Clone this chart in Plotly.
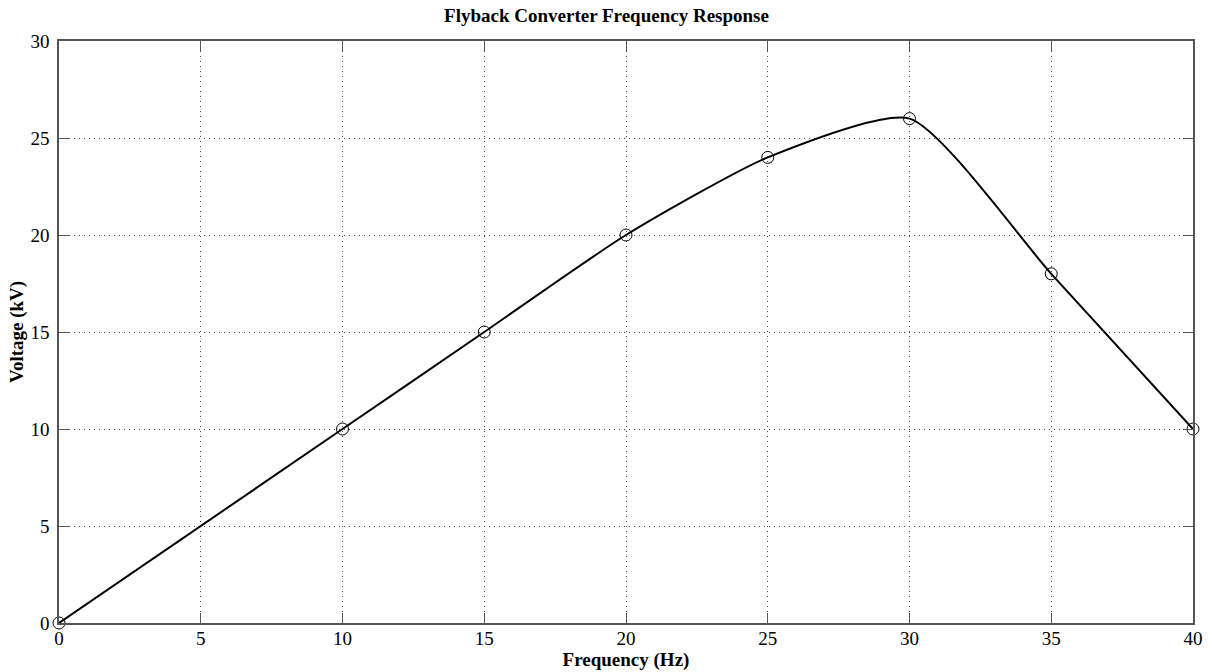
import plotly.graph_objects as go

freq = [0, 10, 15, 20, 25, 30, 35, 40]
voltage = [0, 10, 15, 20, 24, 26, 18, 10]
x_ticks = [0, 5, 10, 15, 20, 25, 30, 35, 40]
y_ticks = [0, 5, 10, 15, 20, 25, 30]

FONT = "Liberation Serif"

fig = go.Figure()
fig.add_trace(go.Scatter(
    x=freq, y=voltage, mode="lines+markers",
    line=dict(color="black", width=2, shape="spline", smoothing=0.6),
    marker=dict(symbol="circle-open", size=12, color="black", line=dict(width=1)),
    cliponaxis=False, showlegend=False,
))

axis_common = dict(
    showline=True, linecolor="#555555", linewidth=1.5, mirror="ticks",
    ticks="inside", ticklen=10, tickcolor="#555555", tickwidth=1,
    showgrid=True, gridcolor="#444444", griddash="1px,4px", gridwidth=1,
    zeroline=False, automargin=False,
    tickfont=dict(family=FONT, size=19, color="black"),
)

fig.update_layout(
    width=1213, height=672,
    margin=dict(l=59, r=20, t=41, b=49),
    paper_bgcolor="white", plot_bgcolor="white",
    title=dict(text="<b>Flyback Converter Frequency Response</b>", x=0.5, xanchor="center",
               y=1 - 15 / 672, yanchor="middle",
               font=dict(family=FONT, size=19, color="black")),
    xaxis=dict(range=[0, 40], tickvals=x_ticks, ticklabelstandoff=-3,
               title=dict(text="<b>Frequency (Hz)</b>", standoff=5,
                          font=dict(family=FONT, size=19, color="black")),
               **axis_common),
    yaxis=dict(range=[0, 30], tickvals=y_ticks, ticklabelstandoff=4,
               title=dict(text="<b>Voltage (kV)</b>", standoff=2,
                          font=dict(family=FONT, size=19, color="black")),
               **axis_common),
)

fig.write_html("out.html")
